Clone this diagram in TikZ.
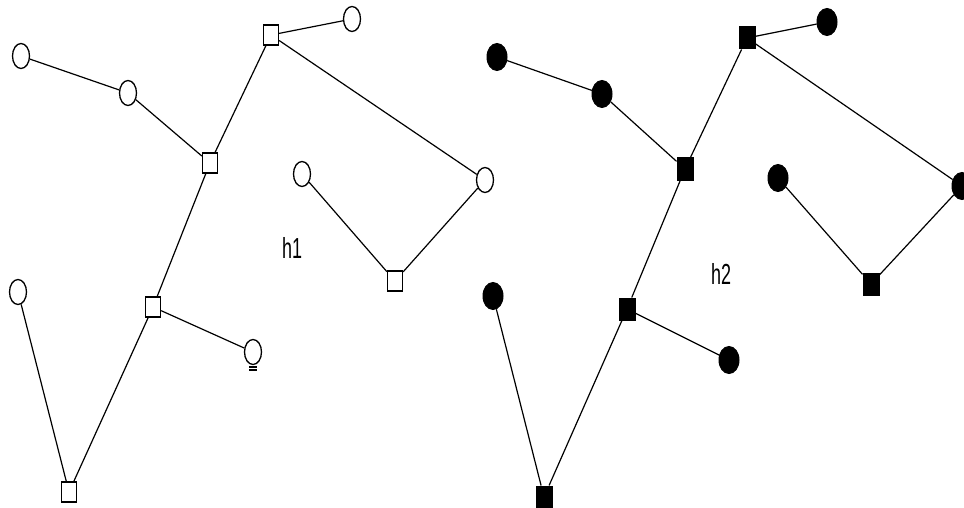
\documentclass[tikz,border=0pt]{standalone}
\usepackage{fontspec}
\setmainfont{Liberation Sans}
\usetikzlibrary{shapes.geometric}
\begin{document}
\begin{tikzpicture}[x=1pt,y=-1pt,
  oc/.style={draw=black,line width=1.3pt,ellipse,minimum width=17pt,minimum height=25pt,inner sep=0pt},
  fc/.style={draw=black,fill=black,line width=1pt,ellipse,minimum width=20pt,minimum height=27pt,inner sep=0pt},
  osq/.style={draw=black,line width=1.3pt,rectangle,minimum width=15pt,minimum height=20pt,inner sep=0pt},
  fsq/.style={draw=black,fill=black,line width=1pt,rectangle,minimum width=16pt,minimum height=22pt,inner sep=0pt},
  edge/.style={draw=black,line width=1.2pt},
  lab/.style={font=\fontsize{29}{29}\selectfont,inner sep=0pt}]
\useasboundingbox (0,0) rectangle (964,508);
\fill[white] (0,0) rectangle (964,508);
% left graph h1
\node[oc] (o1) at (21,56) {};
\node[oc] (o2) at (128,93) {};
\node[osq] (s1) at (210,163) {};
\node[osq] (s2) at (271,35) {};
\node[oc] (o3) at (352,19) {};
\node[oc] (o4) at (485,180) {};
\node[oc] (o5) at (302,174) {};
\node[osq] (s3) at (395,281) {};
\node[osq] (s4) at (153,307) {};
\node[oc] (b) at (253,352) {};
\node[oc] (o6) at (18,292) {};
\node[osq] (s5) at (69,492) {};
\coordinate (bl1) at (249,367);
\coordinate (br1) at (257,367);
\coordinate (bl2) at (249,370);
\coordinate (br2) at (257,370);
\draw[line width=1.4pt] (bl1) -- (br1) (bl2) -- (br2);
\node[lab] (h1) at (292,248) {\scalebox{0.62}[1]{h1}};
\draw[edge] (o1) -- (o2);
\draw[edge] (o2) -- (s1);
\draw[edge] (s1) -- (s2);
\draw[edge] (s2) -- (o3);
\draw[edge] (s2) -- (o4);
\draw[edge] (o4) -- (s3);
\draw[edge] (o5) -- (s3);
\draw[edge] (s1) -- (s4);
\draw[edge] (s4) -- (b);
\draw[edge] (s4) -- (s5);
\draw[edge] (o6) -- (s5);
% right graph h2
\node[fc] (f1) at (497,57) {};
\node[fc] (f2) at (602,94) {};
\node[fsq] (t1) at (685,169) {};
\node[fsq] (t2) at (747,38) {};
\node[fc] (f3) at (827,22) {};
\node[fc] (f4) at (962,186) {};
\node[fc] (f5) at (778,178) {};
\node[fsq] (t3) at (871,284) {};
\node[fsq] (t4) at (627,309) {};
\node[fc] (f7) at (729,360) {};
\node[fc] (f6) at (493,296) {};
\node[fsq] (t5) at (544,497) {};
\node[lab] (h2) at (721,274) {\scalebox{0.62}[1]{h2}};
\draw[edge] (f1) -- (f2);
\draw[edge] (f2) -- (t1);
\draw[edge] (t1) -- (t2);
\draw[edge] (t2) -- (f3);
\draw[edge] (t2) -- (f4);
\draw[edge] (f4) -- (t3);
\draw[edge] (f5) -- (t3);
\draw[edge] (t1) -- (t4);
\draw[edge] (t4) -- (f7);
\draw[edge] (t4) -- (t5);
\draw[edge] (f6) -- (t5);
\end{tikzpicture}
\end{document}
